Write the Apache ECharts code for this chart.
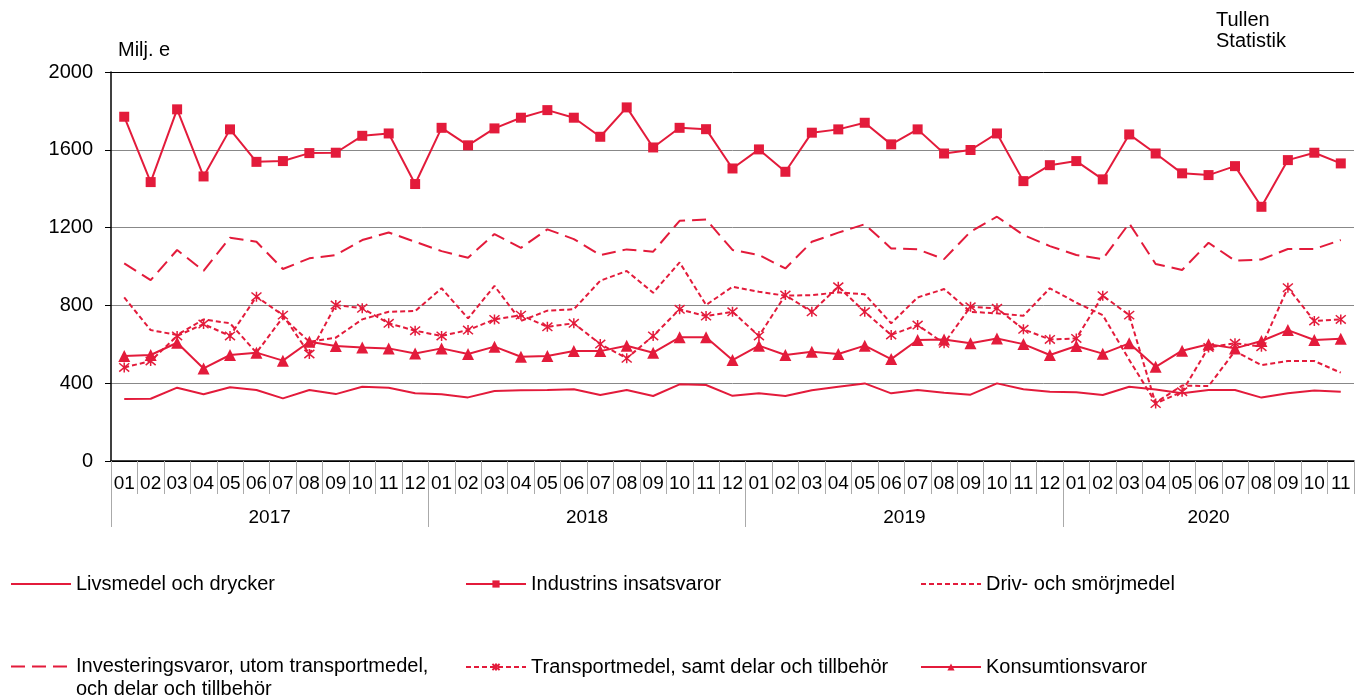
<!DOCTYPE html>
<html>
<head>
<meta charset="utf-8">
<script src="https://cdn.jsdelivr.net/npm/echarts@6/dist/echarts.min.js"></script>
<style>
html,body{margin:0;padding:0;background:#fff;}
#chart{width:1355px;height:700px;}
</style>
</head>
<body>
<div id="chart"></div>
<script>
const months = ['01','02','03','04','05','06','07','08','09','10','11','12',
  '01','02','03','04','05','06','07','08','09','10','11','12',
  '01','02','03','04','05','06','07','08','09','10','11','12',
  '01','02','03','04','05','06','07','08','09','10','11'];
const years = ['2017','2018','2019','2020'];
const yearStarts = [0, 12, 24, 36];
const yearCenters = [6, 18, 30, 41.5];

const livsmedel = [319,320,377,343,379,365,322,365,344,382,377,348,
  343,327,360,364,365,369,339,365,334,394,391,335,
  348,334,364,382,399,348,365,351,341,399,369,356,
  353,339,382,368,348,365,365,326,348,362,356];
const industrins = [1770,1434,1808,1463,1705,1538,1542,1583,1585,1672,1684,1424,
  1713,1623,1710,1765,1804,1765,1667,1818,1612,1713,1706,1504,
  1602,1487,1688,1705,1739,1628,1705,1581,1599,1684,1439,1521,
  1542,1448,1679,1581,1479,1470,1516,1307,1547,1585,1530];
const driv = [841,673,648,728,708,557,739,613,634,728,767,771,
  888,733,900,720,773,780,927,977,865,1021,802,896,
  870,850,853,867,857,708,841,884,767,759,747,888,
  814,750,520,300,388,385,565,493,514,514,454];
const invest = [1016,930,1085,978,1148,1127,987,1042,1059,1136,1175,1127,
  1079,1045,1167,1096,1191,1141,1059,1088,1076,1235,1242,1085,
  1059,990,1127,1174,1217,1093,1088,1038,1179,1256,1162,1105,
  1059,1038,1222,1013,982,1122,1030,1036,1090,1090,1136];
const transport = [481,514,643,704,643,845,750,550,802,785,708,670,
  643,673,728,750,690,708,601,528,643,780,745,767,
  643,853,767,896,767,648,699,605,793,785,677,625,
  630,850,750,295,356,584,605,588,891,720,728];
const konsum = [540,545,608,476,545,557,516,613,591,584,579,553,
  579,550,588,536,540,565,565,593,557,636,636,519,
  593,545,562,550,593,524,622,625,605,630,601,545,
  591,552,605,484,567,600,579,617,673,622,628];

const names = ['Livsmedel och drycker','Industrins insatsvaror','Driv- och smörjmedel',
  'Investeringsvaror, utom transportmedel, och delar och tillbehör',
  'Transportmedel, samt delar och tillbehör','Konsumtionsvaror'];
const yTicks = [0, 400, 800, 1200, 1600, 2000];

const RED = '#E31B3B';
const FONT = '"Liberation Sans", Arial, sans-serif';
const ASTER = 'path://M0 0L10 10M10 0L0 10M5 -1L5 11';

const chart = echarts.init(document.getElementById('chart'), null, {renderer:'canvas'});

function leg(name, left, top, extra) {
  return Object.assign({
    data: [name], left: left, top: top, orient: 'horizontal', padding: 0,
    itemWidth: 60, itemHeight: 9, itemGap: 10, selectedMode: false,
    textStyle: {fontFamily: FONT, fontSize: 20, color: '#000'}
  }, extra || {});
}
const noSym = {itemStyle: {opacity: 0, color: 'rgba(0,0,0,0)', borderWidth: 0}};

const option = {
  animation: false,
  backgroundColor: '#fff',
  title: [
    {text: 'Milj. e', left: 118, top: 40, padding: 0, textStyle: {fontFamily: FONT, fontSize: 20, fontWeight: 'normal', color: '#000'}},
    {text: 'Tullen\nStatistik', left: 1216, top: 10, padding: 0, textStyle: {fontFamily: FONT, fontSize: 20, fontWeight: 'normal', color: '#000', lineHeight: 21}}
  ],
  legend: [
    leg(names[0], 10, 574, noSym),
    leg(names[1], 465, 574),
    leg(names[2], 920, 574, noSym),
    leg(names[3], 10, 632, Object.assign({formatter: function(){return '\nInvesteringsvaror, utom transportmedel,\noch delar och tillbehör';},
      textStyle: {fontFamily: FONT, fontSize: 20, color: '#000', lineHeight: 23}}, noSym)),
    leg(names[4], 465, 657),
    leg(names[5], 920, 657)
  ],
  grid: {left: 111, right: 1, top: 72, bottom: 239, containLabel: false},
  xAxis: [
    {
      type: 'category', data: months, boundaryGap: true, position: 'bottom',
      axisLine: {show: true, lineStyle: {color: '#000', width: 1.5}},
      axisTick: {show: true, interval: 0, length: 33, lineStyle: {color: '#aaa', width: 1}},
      axisLabel: {interval: 0, fontFamily: FONT, fontSize: 19, color: '#000', margin: 13},
      splitLine: {show: false}
    },
    {
      type: 'value', min: 0, max: 47, position: 'bottom',
      axisLine: {show: false},
      axisTick: {show: true, customValues: yearStarts, length: 66, lineStyle: {color: '#aaa', width: 1}},
      axisLabel: {show: true, customValues: yearCenters, margin: 47, fontFamily: FONT, fontSize: 19, color: '#000',
        formatter: function(v){ const i = yearCenters.indexOf(v); return i >= 0 ? years[i] : ''; }},
      splitLine: {show: false}
    }
  ],
  yAxis: {
    type: 'value', min: yTicks[0], max: yTicks[yTicks.length-1], interval: 400,
    axisLine: {show: true, lineStyle: {color: '#000', width: 1.5}},
    axisTick: {show: true, length: 6, lineStyle: {color: '#000'}},
    axisLabel: {fontFamily: FONT, fontSize: 20, color: '#000', margin: 18, formatter: function(v){return String(v);}},
    splitLine: {show: true, lineStyle: {color: ['#000','#888','#888','#888','#888','#000'], width: 1}}
  },
  series: [
    {name: names[0], type: 'line', data: livsmedel, symbol: 'none', color: RED,
      lineStyle: {color: RED, width: 2}},
    {name: names[1], type: 'line', data: industrins, symbol: 'rect', symbolSize: 10, showAllSymbol: true, color: RED,
      itemStyle: {color: RED}, lineStyle: {color: RED, width: 2}},
    {name: names[2], type: 'line', data: driv, symbol: 'none', color: RED,
      lineStyle: {color: RED, width: 2, type: [5, 3]}},
    {name: names[3], type: 'line', data: invest, symbol: 'none', color: RED,
      lineStyle: {color: RED, width: 2, type: [14, 7]}},
    {name: names[4], type: 'line', data: transport, symbol: ASTER, symbolSize: 10, showAllSymbol: true, color: RED,
      itemStyle: {color: 'rgba(0,0,0,0)', borderColor: RED, borderWidth: 1.5}, lineStyle: {color: RED, width: 2, type: [5, 3]}},
    {name: names[5], type: 'line', data: konsum, symbol: 'triangle', symbolSize: 12, showAllSymbol: true, color: RED,
      itemStyle: {color: RED}, lineStyle: {color: RED, width: 2}}
  ]
};
chart.setOption(option);
</script>
</body>
</html>
